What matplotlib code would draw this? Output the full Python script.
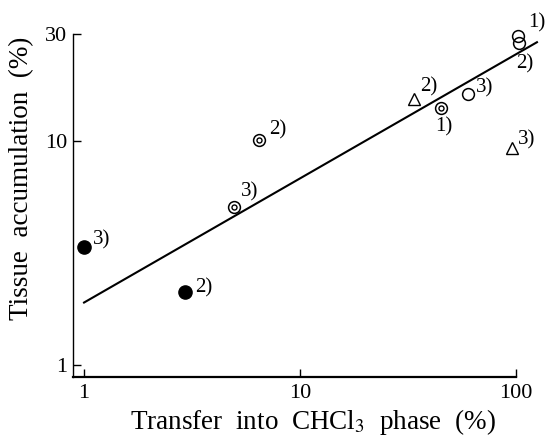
import matplotlib
matplotlib.use("Agg")
import matplotlib.pyplot as plt

plt.rcParams['font.family'] = ['Liberation Serif', 'DejaVu Serif']
plt.rcParams['mathtext.fontset'] = 'stix'

# Data (log-log axes)
filled_x = [1.0, 2.94]
filled_y = [3.37, 2.12]
filled_lab = ["3)", "2)"]

dcirc_x = [4.95, 6.46, 45.0]
dcirc_y = [5.09, 10.1, 14.1]
dcirc_lab = ["3)", "2)", "1)"]

ocirc_x = [60.2, 102.5, 103.6]
ocirc_y = [16.2, 29.4, 27.5]
ocirc_lab = ["3)", "1)", "2)"]

tri_x = [33.8, 95.5]
tri_y = [15.4, 9.34]
tri_lab = ["2)", "3)"]

fit_x = [1.0, 125.0]
fit_y = [1.90, 27.6]

xticks = [1, 10, 100]
xtick_labels = ["1", "10", "100"]
yticks = [1, 10, 30]
ytick_labels = ["1", "10", "30"]

fig = plt.figure(figsize=(5.45, 4.36), dpi=100)
ax = fig.add_axes([73/545, 1 - 376.7/436, (545-73)/545, 376.7/436])
ax.set_xscale('log')
ax.set_yscale('log')
ax.set_xlim(0.889, 136.2)
ax.set_ylim(0.8866, 42.6)

ax.plot(fit_x, fit_y, color='black', lw=1.5, zorder=2)

ax.plot(filled_x, filled_y, 'o', ms=9.5, mfc='black', mec='black', zorder=3)
ax.plot(dcirc_x, dcirc_y, 'o', ms=8.5, mfc='white', mec='black', mew=1.1, zorder=3)
ax.plot(dcirc_x, dcirc_y, 'o', ms=3.6, mfc='white', mec='black', mew=1.0, zorder=4)
ax.plot(ocirc_x, ocirc_y, 'o', ms=8.5, mfc='none', mec='black', mew=1.1, zorder=3)
ax.plot(tri_x, tri_y, '^', ms=9, mfc='white', mec='black', mew=1.0, zorder=3)

fs_ann = 15
def lab(xs, ys, labs, offs):
    for x, y, t, (dx, dy, ha) in zip(xs, ys, labs, offs):
        ax.annotate(t, (x, y), xytext=(dx, dy), textcoords='offset pixels',
                    ha=ha, va='center', fontsize=fs_ann)

lab(filled_x, filled_y, filled_lab, [(9, 7, 'left'), (10, 4, 'left')])
lab(dcirc_x, dcirc_y, dcirc_lab, [(7, 15, 'left'), (10, 10, 'left'), (3, -19, 'center')])
lab(ocirc_x, ocirc_y, ocirc_lab, [(8, 6.5, 'left'), (10, 13.5, 'left'), (-3, -21, 'left')])
lab(tri_x, tri_y, tri_lab, [(6, 12.5, 'left'), (6.5, 8, 'left')])

for s in ['top', 'right']:
    ax.spines[s].set_visible(False)
ax.spines['left'].set_bounds(0.8866, 30)
ax.spines['bottom'].set_bounds(0.889, 100)
ax.spines['left'].set_linewidth(1.0)
ax.spines['bottom'].set_linewidth(1.6)

ax.set_xticks(xticks)
ax.set_xticklabels(xtick_labels)
ax.set_yticks(yticks)
ax.set_yticklabels(ytick_labels)
ax.minorticks_off()
ax.tick_params(axis='both', direction='in', length=5.5, width=1.0, labelsize=16)
ax.tick_params(axis='x', pad=5)
ax.tick_params(axis='y', pad=4)

ax.set_xlabel("Transfer  into  CHCl$_3$  phase  (%)", fontsize=19.5)
ax.set_ylabel("Tissue  accumulation  (%)", fontsize=19.5)
ax.xaxis.set_label_coords((313-73)/472, -(422-376.7)/376.7)
ax.yaxis.set_label_coords(-(73-22)/472, (376.7-178)/376.7)
ax.xaxis.label.set_va('center')
ax.yaxis.label.set_va('center')

fig.savefig("out.png", dpi=100)
